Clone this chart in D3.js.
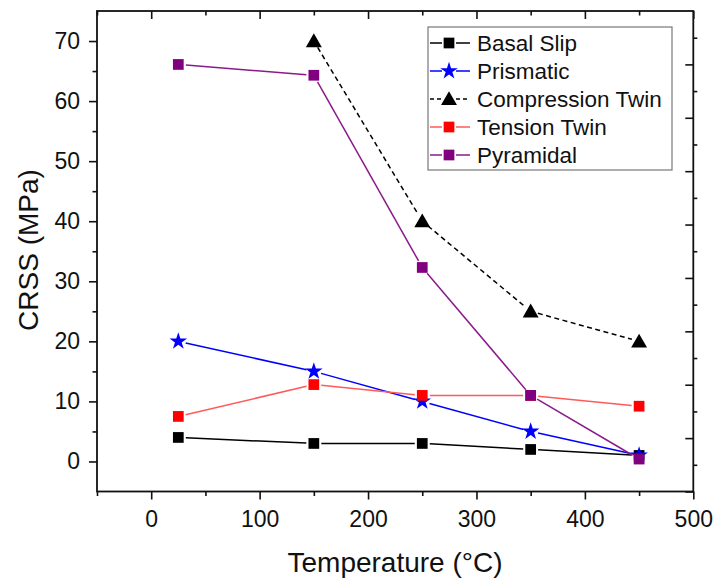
<!DOCTYPE html>
<html><head><meta charset="utf-8">
<script src="https://cdn.jsdelivr.net/npm/d3@7"></script>
<style>body{margin:0;background:#fff} text{font-family:"Liberation Sans",Arial,sans-serif}</style>
</head><body><svg id="c" width="717" height="586"></svg>
<script>
// ---- data ----
const temps = [25, 150, 250, 350, 450];
const basalSlip = [4, 3, 3, 2, 1];
const prismatic = [20, 15, 10, 5, 1];
const compTemps = [150, 250, 350, 450];
const compressionTwin = [70, 40, 25, 20];
const tensionTwin = [7.5, 12.8, 11, 11, 9.2];
const pyramidal = [66.1, 64.3, 32.3, 11, 0.4];
const seriesNames = ["Basal Slip", "Prismatic", "Compression Twin", "Tension Twin", "Pyramidal"];
const xTicks = [0, 100, 200, 300, 400, 500];
const xMinor = [-50, 50, 150, 250, 350, 450];
const yTicks = [0, 10, 20, 30, 40, 50, 60, 70];
const yMinor = [5, 15, 25, 35, 45, 55, 65];
const rTicks = [0, 1, 2, 3, 4, 5, 6, 7, 8];
const rMinor = [0.5, 1.5, 2.5, 3.5, 4.5, 5.5, 6.5, 7.5, 8.5];

const series = [
  {name: seriesNames[0], xs: temps, ys: basalSlip, line: "#000", fill: "#000", sym: d3.symbolSquare, size: 115, dash: null},
  {name: seriesNames[1], xs: temps, ys: prismatic, line: "#0000ff", fill: "#0000ff", sym: d3.symbolStar, size: 95, dash: null},
  {name: seriesNames[2], xs: compTemps, ys: compressionTwin, line: "#000", fill: "#000", sym: d3.symbolTriangle, size: 110, dash: "5,3.5"},
  {name: seriesNames[3], xs: temps, ys: tensionTwin, line: "#ff5a5a", fill: "#ff0000", sym: d3.symbolSquare, size: 115, dash: null},
  {name: seriesNames[4], xs: temps, ys: pyramidal, line: "#8a1a8a", fill: "#800080", sym: d3.symbolSquare, size: 115, dash: null}
];

const svg = d3.select("#c");
const L = 97, R = 693.3, T = 11, B = 491.5;
const x = d3.scaleLinear().domain([-50, 500]).range([L, R]);
const y = d3.scaleLinear().domain([-5, 75]).range([B, T]);
const yr = d3.scaleLinear().domain([0, 9]).range([B, T]);

const axisCol = "#111";
function style(g) {
  g.select(".domain").remove();
  g.selectAll("line").attr("stroke", axisCol).attr("stroke-width", 1.6);
  g.selectAll("text").attr("fill", "#111").attr("font-size", 23).attr("font-family", '"Liberation Sans", Arial, sans-serif');
}
// bottom
svg.append("g").attr("transform", `translate(0,${B})`)
  .call(d3.axisBottom(x).tickValues(xTicks).tickSize(8).tickPadding(11).tickFormat(d3.format("d"))).call(style);
svg.append("g").attr("transform", `translate(0,${B})`)
  .call(d3.axisBottom(x).tickValues(xMinor).tickSize(4.5).tickFormat("")).call(style);
// top
svg.append("g").attr("transform", `translate(0,${T})`)
  .call(d3.axisTop(x).tickValues(xTicks).tickSize(-8).tickFormat("")).call(style);
svg.append("g").attr("transform", `translate(0,${T})`)
  .call(d3.axisTop(x).tickValues(xMinor).tickSize(-4.5).tickFormat("")).call(style);
// left
svg.append("g").attr("transform", `translate(${L},0)`)
  .call(d3.axisLeft(y).tickValues(yTicks).tickSize(8).tickPadding(9).tickFormat(d3.format("d"))).call(style);
svg.append("g").attr("transform", `translate(${L},0)`)
  .call(d3.axisLeft(y).tickValues(yMinor).tickSize(4.5).tickFormat("")).call(style);
// right
svg.append("g").attr("transform", `translate(${R},0)`)
  .call(d3.axisRight(yr).tickValues(rTicks).tickSize(-8).tickFormat("")).call(style);
svg.append("g").attr("transform", `translate(${R},0)`)
  .call(d3.axisRight(yr).tickValues(rMinor).tickSize(4).tickFormat("")).call(style);

// frame
svg.append("rect").attr("x", L).attr("y", T).attr("width", R - L).attr("height", B - T)
  .attr("fill", "none").attr("stroke", axisCol).attr("stroke-width", 1.8);

// series lines with gaps around markers
const gap = 7.5;
series.forEach(s => {
  const pts = s.xs.map((v, i) => [x(v), y(s.ys[i])]);
  const g = svg.append("g");
  for (let i = 0; i < pts.length - 1; i++) {
    const [x1, y1] = pts[i], [x2, y2] = pts[i + 1];
    const dx = x2 - x1, dy = y2 - y1, len = Math.hypot(dx, dy);
    if (len <= 2 * gap) continue;
    const ux = dx / len, uy = dy / len;
    g.append("line").attr("x1", x1 + ux * gap).attr("y1", y1 + uy * gap)
      .attr("x2", x2 - ux * gap).attr("y2", y2 - uy * gap)
      .attr("stroke", s.line).attr("stroke-width", 1.5)
      .attr("stroke-dasharray", s.dash);
  }
});
series.forEach(s => {
  svg.append("g").selectAll("path").data(s.xs.map((v, i) => [v, s.ys[i]])).join("path")
    .attr("transform", d => `translate(${x(d[0])},${y(d[1]) + (s.sym === d3.symbolTriangle ? 1.5 : 0)})`)
    .attr("d", d3.symbol().type(s.sym).size(s.size))
    .attr("fill", s.fill);
});

// legend
const lg = svg.append("g");
lg.append("rect").attr("x", 428).attr("y", 27).attr("width", 244).attr("height", 143)
  .attr("fill", "#fff").attr("stroke", "#777").attr("stroke-width", 1.2);
series.forEach((s, i) => {
  const cy = 43 + i * 28;
  [[430, 442], [456, 470]].forEach(([a, b]) => {
    lg.append("line").attr("x1", a).attr("x2", b).attr("y1", cy).attr("y2", cy)
      .attr("stroke", s.line).attr("stroke-width", 1.5).attr("stroke-dasharray", s.dash ? "4,3" : null);
  });
  lg.append("path").attr("transform", `translate(449,${cy + (s.sym === d3.symbolTriangle ? 1.5 : 0)})`)
    .attr("d", d3.symbol().type(s.sym).size(s.size)).attr("fill", s.fill);
  lg.append("text").attr("x", 477).attr("y", cy + 8).attr("font-size", 22.5).attr("fill", "#111").text(s.name);
});

// axis titles
svg.append("text").attr("x", 395).attr("y", 572).attr("text-anchor", "middle")
  .attr("font-size", 28).attr("fill", "#111").text("Temperature (°C)");
svg.append("text").attr("transform", "translate(38,250) rotate(-90)").attr("text-anchor", "middle")
  .attr("font-size", 28).attr("fill", "#111").text("CRSS (MPa)");
</script></body></html>
